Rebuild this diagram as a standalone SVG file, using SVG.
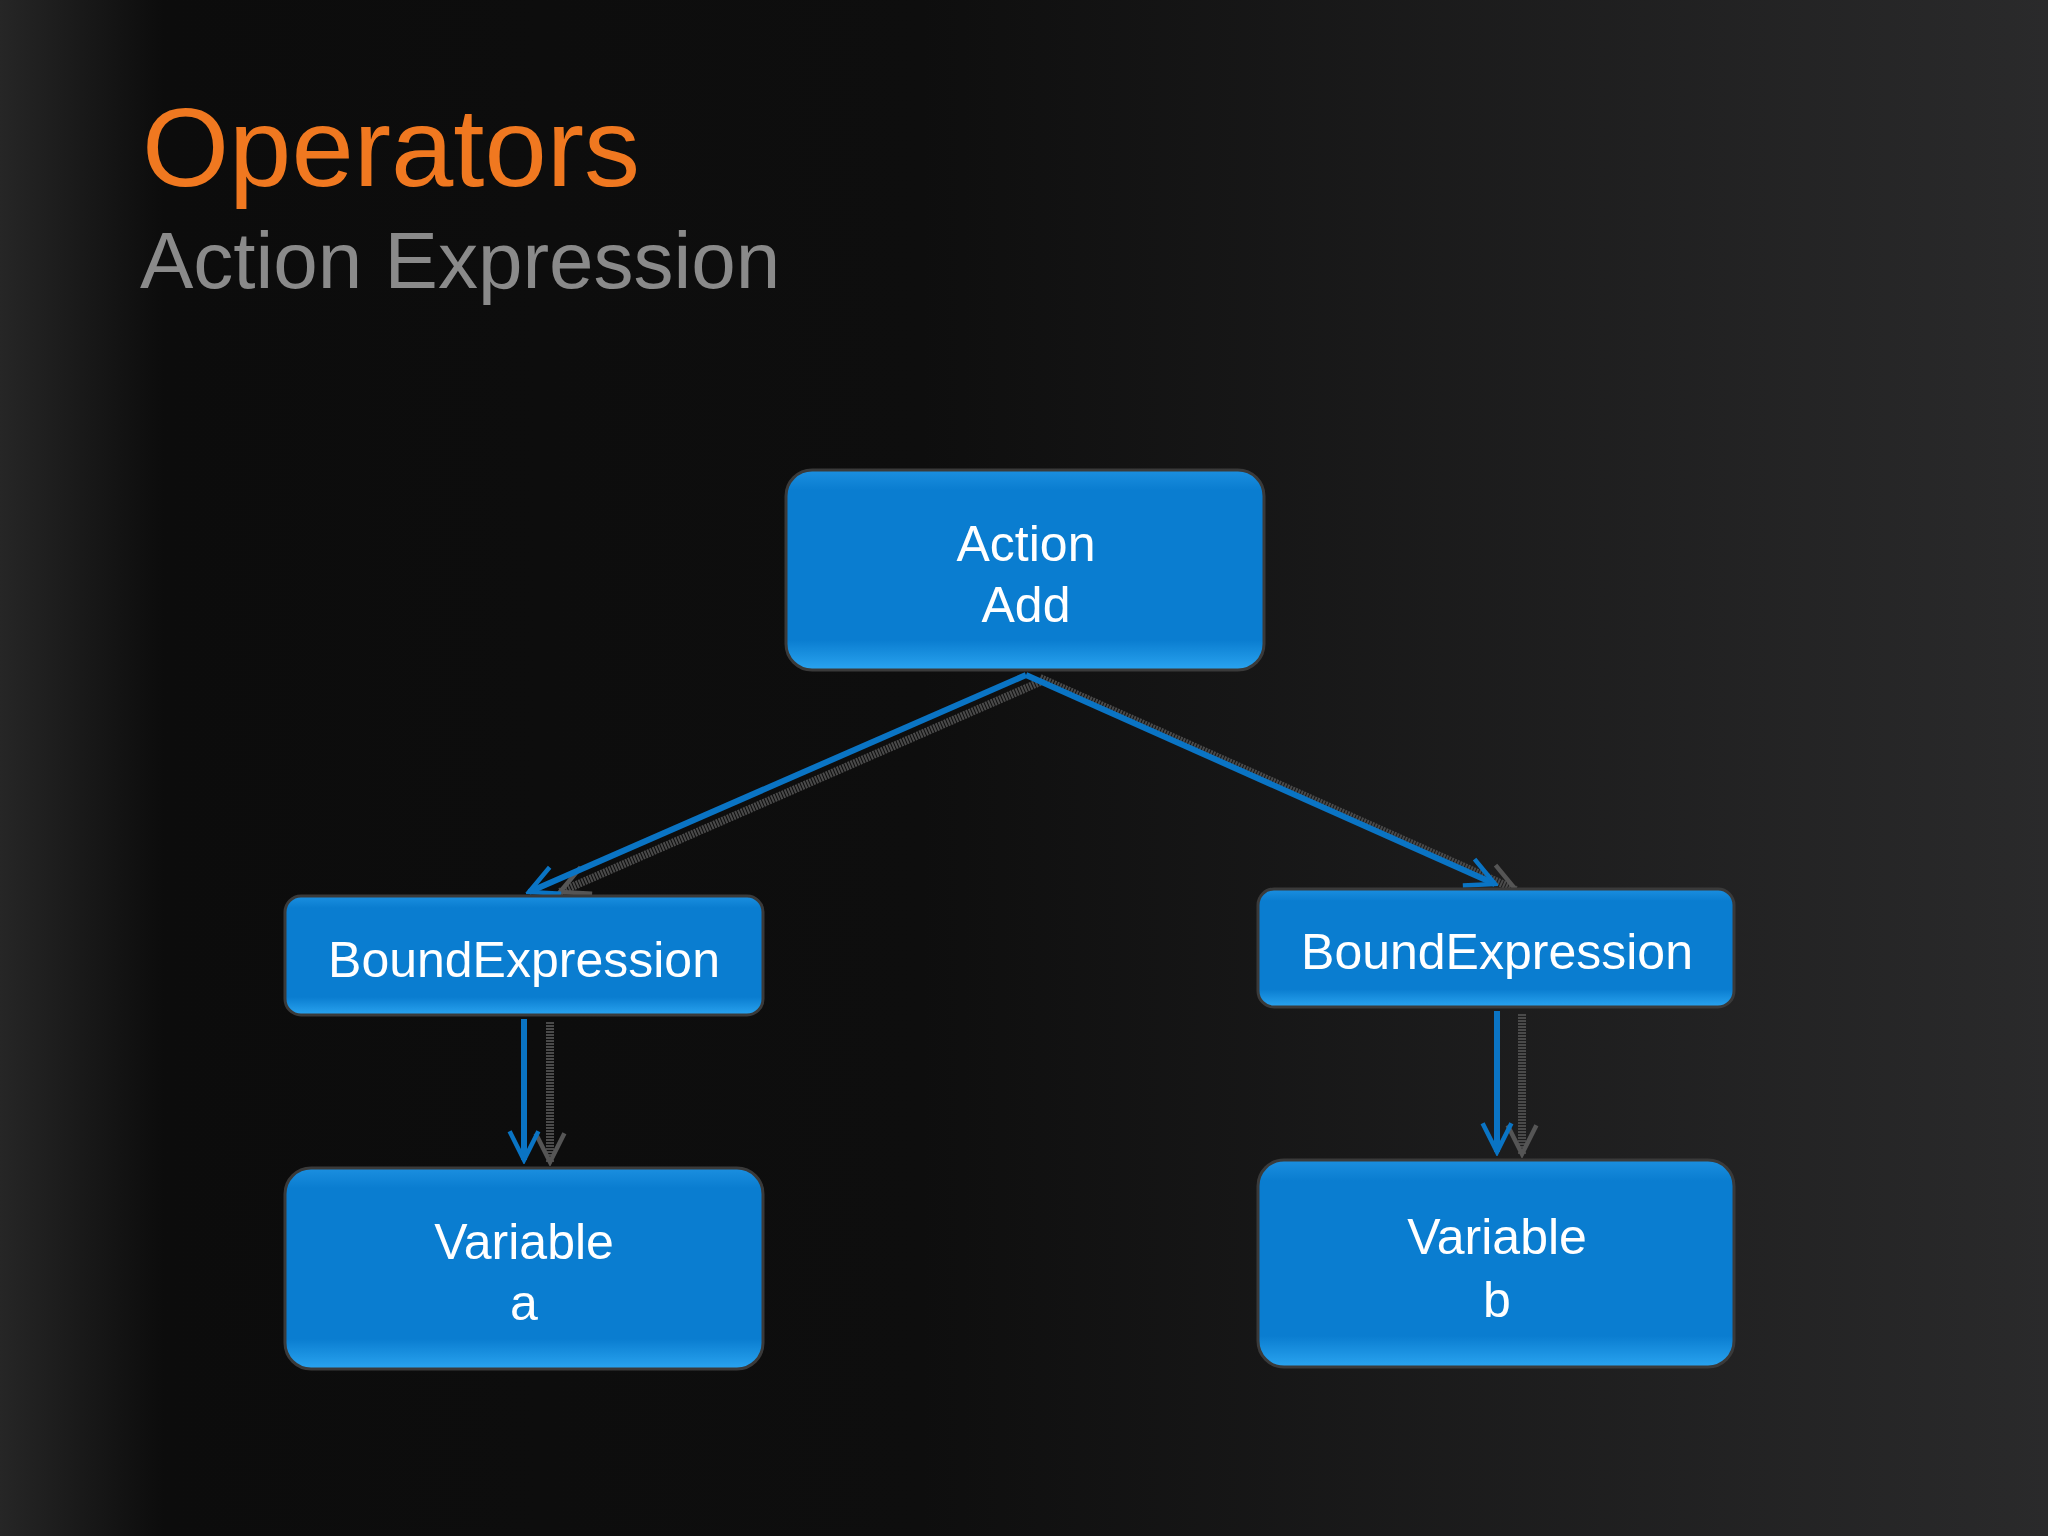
<svg xmlns="http://www.w3.org/2000/svg" width="2048" height="1536" viewBox="0 0 2048 1536">
<defs>
<linearGradient id="bg" x1="0" y1="0" x2="1" y2="0">
<stop offset="0" stop-color="#262626"/><stop offset="0.08" stop-color="#0c0c0c"/><stop offset="0.45" stop-color="#0e0e0e"/><stop offset="1" stop-color="#2a2a2b"/>
</linearGradient>
<linearGradient id="box" x1="0" y1="0" x2="0" y2="1">
<stop offset="0" stop-color="#1b8fe0"/><stop offset="0.1" stop-color="#0a7dd0"/><stop offset="0.85" stop-color="#0a7dd0"/><stop offset="1" stop-color="#2aa4f0"/>
</linearGradient>
<marker id="ah" viewBox="0 0 20 20" refX="18" refY="10" markerWidth="36" markerHeight="36" orient="auto" markerUnits="userSpaceOnUse">
<path d="M2,2 L18,10 L2,18" fill="none" stroke="#0a74c4" stroke-width="2.5"/>
</marker>
<marker id="sh" viewBox="0 0 20 20" refX="18" refY="10" markerWidth="36" markerHeight="36" orient="auto" markerUnits="userSpaceOnUse">
<path d="M2,2 L18,10 L2,18" fill="none" stroke="#555" stroke-width="2.5"/>
</marker>
<style>
.n rect{fill:url(#box);stroke:#3a3a3a;stroke-width:3}
.t{font-family:"Liberation Sans",Arial,sans-serif;font-size:50px;fill:#fff;text-anchor:middle}
.c{stroke:#0a74c4;stroke-width:6;fill:none;marker-end:url(#ah)}
.s{stroke:#4a4a4a;stroke-width:8;fill:none;stroke-dasharray:2 1;marker-end:url(#sh)}
</style>
</defs>
<rect width="2048" height="1536" fill="url(#bg)"/>
<text x="142" y="186" font-family="Liberation Sans,Arial,sans-serif" font-size="112" fill="#f07820">Operators</text>
<text x="140" y="288" font-family="Liberation Sans,Arial,sans-serif" font-size="80" fill="#8a8a8a">Action Expression</text>
<g id="connectors">
<path class="s" d="M1040,682 L560,892"/>
<path class="s" d="M1040,678 L1516,890"/>
<path class="s" d="M550,1022 L550,1162"/>
<path class="s" d="M1522,1014 L1522,1154"/>
<path class="c" d="M1026,675 L529,892"/>
<path class="c" d="M1026,675 L1495,884"/>
<path class="c" d="M524,1019 L524,1160"/>
<path class="c" d="M1497,1011 L1497,1152"/>
</g>
<g id="action" class="n"><rect x="786" y="470" width="478" height="200" rx="26"/><text class="t" x="1026" y="561">Action</text><text class="t" x="1026" y="622">Add</text></g>
<g id="bound-left" class="n"><rect x="285" y="896" width="478" height="119" rx="16"/><text class="t" x="524" y="977">BoundExpression</text></g>
<g id="bound-right" class="n"><rect x="1258" y="889" width="476" height="118" rx="16"/><text class="t" x="1497" y="969">BoundExpression</text></g>
<g id="var-a" class="n"><rect x="285" y="1168" width="478" height="201" rx="26"/><text class="t" x="524" y="1259">Variable</text><text class="t" x="524" y="1320">a</text></g>
<g id="var-b" class="n"><rect x="1258" y="1160" width="476" height="207" rx="26"/><text class="t" x="1497" y="1254">Variable</text><text class="t" x="1497" y="1317">b</text></g>
</svg>
